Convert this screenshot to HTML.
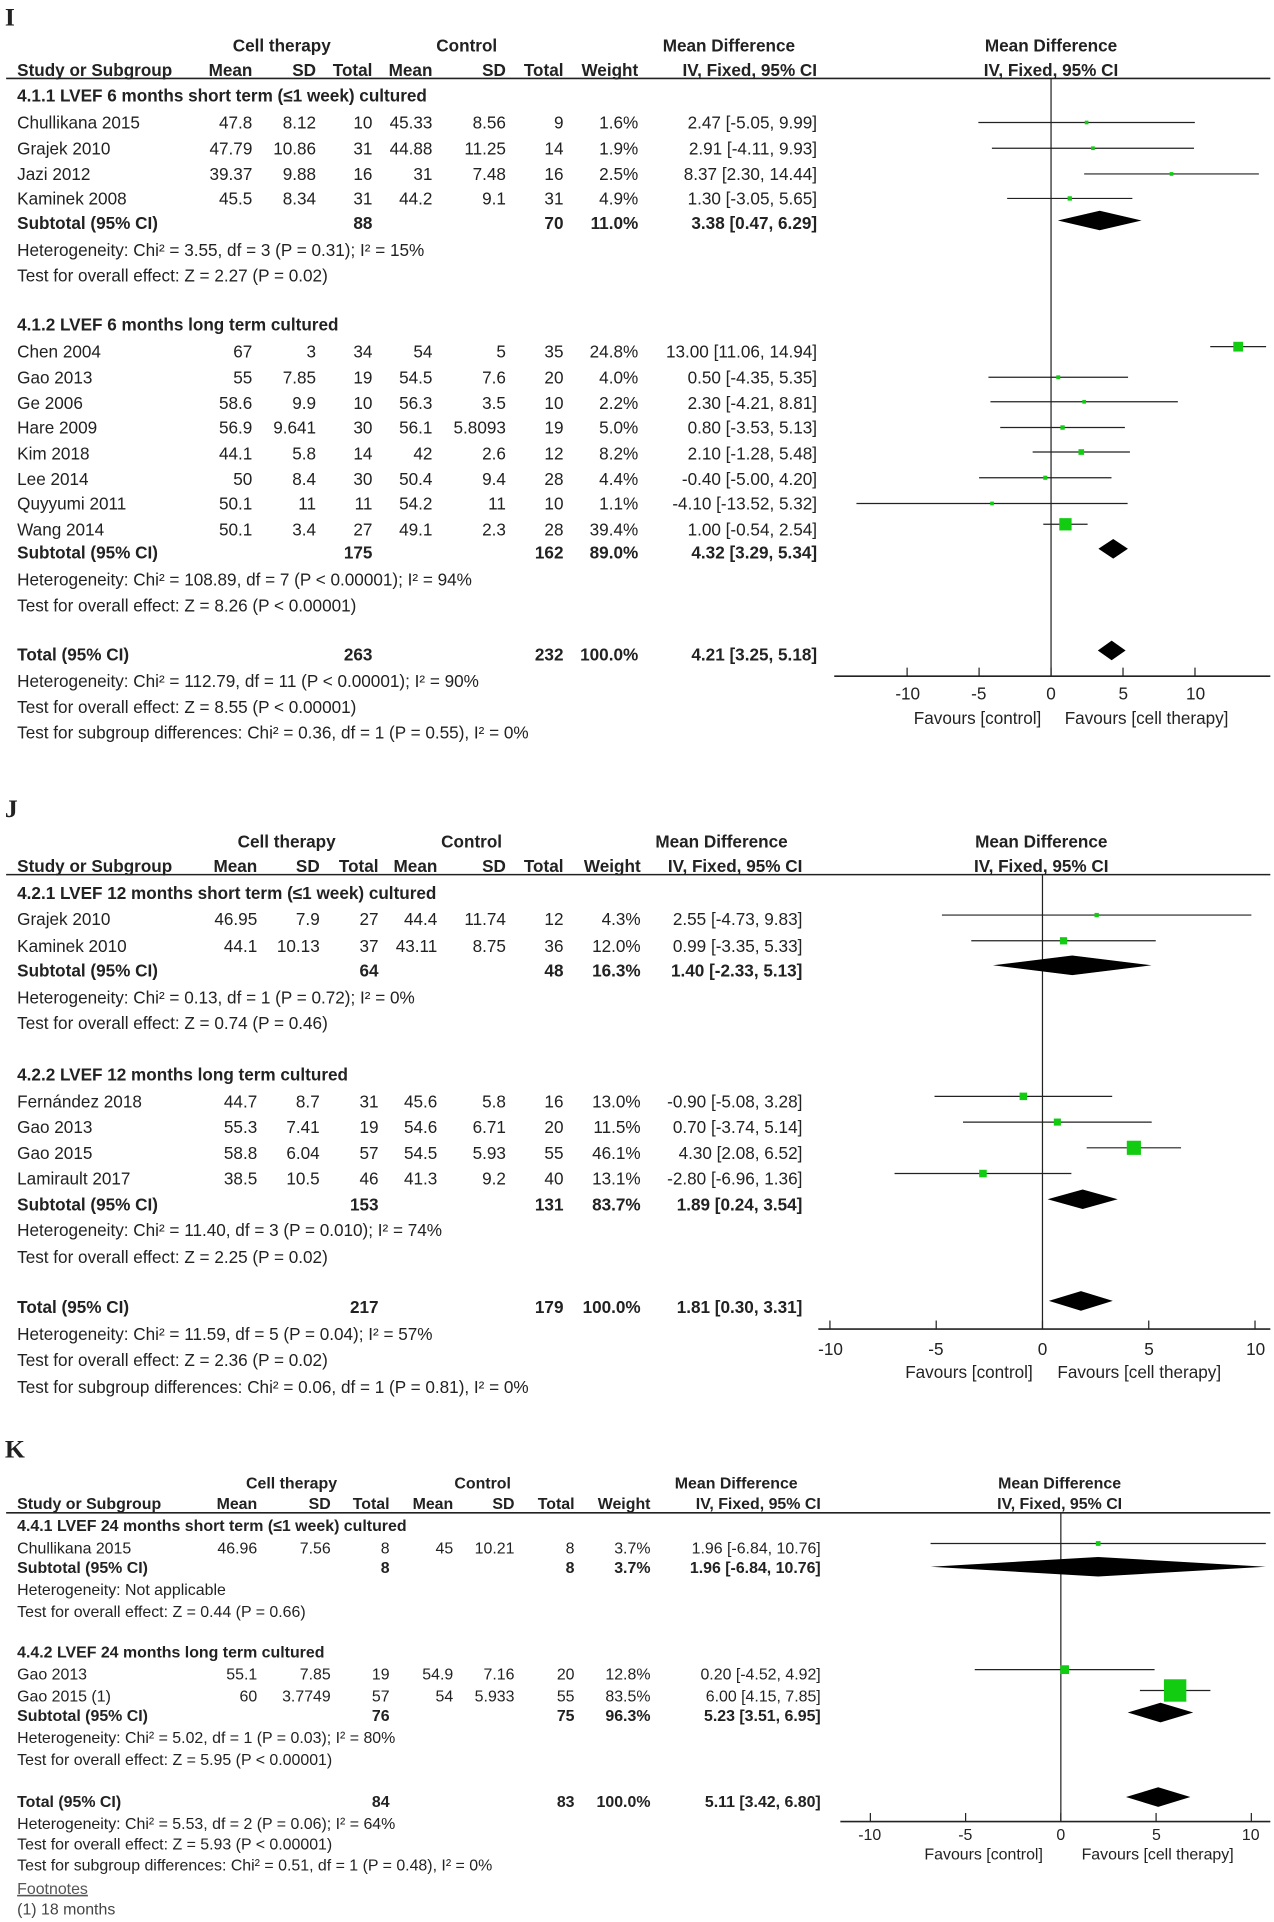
<!DOCTYPE html>
<html><head><meta charset="utf-8"><style>
html,body{margin:0;padding:0;background:#fff;}
svg{display:block}
text{font-family:"Liberation Sans Narrow","Liberation Sans",sans-serif;font-stretch:condensed;fill:#222;font-size:14px}
.b{font-weight:bold}
.e{text-anchor:end}
.m{text-anchor:middle}
.k text{font-size:13px}
</style></head><body>
<svg width="1274" height="1922" viewBox="0 0 1040 1569" preserveAspectRatio="none" xmlns="http://www.w3.org/2000/svg">
<g id="shapes"></g>
<!-- Panel I -->
<text x="4" y="21" style="font-family:'Liberation Serif',serif;font-size:21px;font-weight:bold">I</text>
<g class="b">
<text x="230" y="42" class="m">Cell therapy</text><text x="381" y="42" class="m">Control</text>
<text x="595" y="42" class="m">Mean Difference</text><text x="858" y="42" class="m">Mean Difference</text>
<text x="14" y="62">Study or Subgroup</text><text x="206" y="62" class="e">Mean</text><text x="258" y="62" class="e">SD</text><text x="304" y="62" class="e">Total</text><text x="353" y="62" class="e">Mean</text><text x="413" y="62" class="e">SD</text><text x="460" y="62" class="e">Total</text><text x="521" y="62" class="e">Weight</text><text x="667" y="62" class="e">IV, Fixed, 95% CI</text><text x="858" y="62" class="m">IV, Fixed, 95% CI</text>
<text x="14" y="83">4.1.1 LVEF 6 months short term (≤1 week) cultured</text>
<text x="14" y="187">Subtotal (95% CI)</text><text x="304" y="187" class="e">88</text><text x="460" y="187" class="e">70</text><text x="521" y="187" class="e">11.0%</text><text x="667" y="187" class="e">3.38 [0.47, 6.29]</text>
<text x="14" y="270">4.1.2 LVEF 6 months long term cultured</text>
<text x="14" y="456">Subtotal (95% CI)</text><text x="304" y="456" class="e">175</text><text x="460" y="456" class="e">162</text><text x="521" y="456" class="e">89.0%</text><text x="667" y="456" class="e">4.32 [3.29, 5.34]</text>
<text x="14" y="539">Total (95% CI)</text><text x="304" y="539" class="e">263</text><text x="460" y="539" class="e">232</text><text x="521" y="539" class="e">100.0%</text><text x="667" y="539" class="e">4.21 [3.25, 5.18]</text>
</g>
<g>
<text x="14" y="105">Chullikana 2015</text><text x="206" y="105" class="e">47.8</text><text x="258" y="105" class="e">8.12</text><text x="304" y="105" class="e">10</text><text x="353" y="105" class="e">45.33</text><text x="413" y="105" class="e">8.56</text><text x="460" y="105" class="e">9</text><text x="521" y="105" class="e">1.6%</text><text x="667" y="105" class="e">2.47 [-5.05, 9.99]</text>
<text x="14" y="126">Grajek 2010</text><text x="206" y="126" class="e">47.79</text><text x="258" y="126" class="e">10.86</text><text x="304" y="126" class="e">31</text><text x="353" y="126" class="e">44.88</text><text x="413" y="126" class="e">11.25</text><text x="460" y="126" class="e">14</text><text x="521" y="126" class="e">1.9%</text><text x="667" y="126" class="e">2.91 [-4.11, 9.93]</text>
<text x="14" y="147">Jazi 2012</text><text x="206" y="147" class="e">39.37</text><text x="258" y="147" class="e">9.88</text><text x="304" y="147" class="e">16</text><text x="353" y="147" class="e">31</text><text x="413" y="147" class="e">7.48</text><text x="460" y="147" class="e">16</text><text x="521" y="147" class="e">2.5%</text><text x="667" y="147" class="e">8.37 [2.30, 14.44]</text>
<text x="14" y="167">Kaminek 2008</text><text x="206" y="167" class="e">45.5</text><text x="258" y="167" class="e">8.34</text><text x="304" y="167" class="e">31</text><text x="353" y="167" class="e">44.2</text><text x="413" y="167" class="e">9.1</text><text x="460" y="167" class="e">31</text><text x="521" y="167" class="e">4.9%</text><text x="667" y="167" class="e">1.30 [-3.05, 5.65]</text>
<text x="14" y="209">Heterogeneity: Chi² = 3.55, df = 3 (P = 0.31); I² = 15%</text>
<text x="14" y="230">Test for overall effect: Z = 2.27 (P = 0.02)</text>
<text x="14" y="292">Chen 2004</text><text x="206" y="292" class="e">67</text><text x="258" y="292" class="e">3</text><text x="304" y="292" class="e">34</text><text x="353" y="292" class="e">54</text><text x="413" y="292" class="e">5</text><text x="460" y="292" class="e">35</text><text x="521" y="292" class="e">24.8%</text><text x="667" y="292" class="e">13.00 [11.06, 14.94]</text>
<text x="14" y="313">Gao 2013</text><text x="206" y="313" class="e">55</text><text x="258" y="313" class="e">7.85</text><text x="304" y="313" class="e">19</text><text x="353" y="313" class="e">54.5</text><text x="413" y="313" class="e">7.6</text><text x="460" y="313" class="e">20</text><text x="521" y="313" class="e">4.0%</text><text x="667" y="313" class="e">0.50 [-4.35, 5.35]</text>
<text x="14" y="334">Ge 2006</text><text x="206" y="334" class="e">58.6</text><text x="258" y="334" class="e">9.9</text><text x="304" y="334" class="e">10</text><text x="353" y="334" class="e">56.3</text><text x="413" y="334" class="e">3.5</text><text x="460" y="334" class="e">10</text><text x="521" y="334" class="e">2.2%</text><text x="667" y="334" class="e">2.30 [-4.21, 8.81]</text>
<text x="14" y="354">Hare 2009</text><text x="206" y="354" class="e">56.9</text><text x="258" y="354" class="e">9.641</text><text x="304" y="354" class="e">30</text><text x="353" y="354" class="e">56.1</text><text x="413" y="354" class="e">5.8093</text><text x="460" y="354" class="e">19</text><text x="521" y="354" class="e">5.0%</text><text x="667" y="354" class="e">0.80 [-3.53, 5.13]</text>
<text x="14" y="375">Kim 2018</text><text x="206" y="375" class="e">44.1</text><text x="258" y="375" class="e">5.8</text><text x="304" y="375" class="e">14</text><text x="353" y="375" class="e">42</text><text x="413" y="375" class="e">2.6</text><text x="460" y="375" class="e">12</text><text x="521" y="375" class="e">8.2%</text><text x="667" y="375" class="e">2.10 [-1.28, 5.48]</text>
<text x="14" y="396">Lee 2014</text><text x="206" y="396" class="e">50</text><text x="258" y="396" class="e">8.4</text><text x="304" y="396" class="e">30</text><text x="353" y="396" class="e">50.4</text><text x="413" y="396" class="e">9.4</text><text x="460" y="396" class="e">28</text><text x="521" y="396" class="e">4.4%</text><text x="667" y="396" class="e">-0.40 [-5.00, 4.20]</text>
<text x="14" y="416">Quyyumi 2011</text><text x="206" y="416" class="e">50.1</text><text x="258" y="416" class="e">11</text><text x="304" y="416" class="e">11</text><text x="353" y="416" class="e">54.2</text><text x="413" y="416" class="e">11</text><text x="460" y="416" class="e">10</text><text x="521" y="416" class="e">1.1%</text><text x="667" y="416" class="e">-4.10 [-13.52, 5.32]</text>
<text x="14" y="437">Wang 2014</text><text x="206" y="437" class="e">50.1</text><text x="258" y="437" class="e">3.4</text><text x="304" y="437" class="e">27</text><text x="353" y="437" class="e">49.1</text><text x="413" y="437" class="e">2.3</text><text x="460" y="437" class="e">28</text><text x="521" y="437" class="e">39.4%</text><text x="667" y="437" class="e">1.00 [-0.54, 2.54]</text>
<text x="14" y="478">Heterogeneity: Chi² = 108.89, df = 7 (P &lt; 0.00001); I² = 94%</text>
<text x="14" y="499">Test for overall effect: Z = 8.26 (P &lt; 0.00001)</text>
<text x="14" y="561">Heterogeneity: Chi² = 112.79, df = 11 (P &lt; 0.00001); I² = 90%</text>
<text x="14" y="582">Test for overall effect: Z = 8.55 (P &lt; 0.00001)</text>
<text x="14" y="603">Test for subgroup differences: Chi² = 0.36, df = 1 (P = 0.55), I² = 0%</text>
<text x="741" y="571" class="m">-10</text><text x="799" y="571" class="m">-5</text><text x="858" y="571" class="m">0</text><text x="917" y="571" class="m">5</text><text x="976" y="571" class="m">10</text>
<text x="798" y="591" class="m">Favours [control]</text><text x="936" y="591" class="m">Favours [cell therapy]</text>
</g>

<!-- Panel J -->
<text x="4" y="667" style="font-family:'Liberation Serif',serif;font-size:21px;font-weight:bold">J</text>
<g class="b">
<text x="234" y="692" class="m">Cell therapy</text><text x="385" y="692" class="m">Control</text>
<text x="589" y="692" class="m">Mean Difference</text><text x="850" y="692" class="m">Mean Difference</text>
<text x="14" y="712">Study or Subgroup</text><text x="210" y="712" class="e">Mean</text><text x="261" y="712" class="e">SD</text><text x="309" y="712" class="e">Total</text><text x="357" y="712" class="e">Mean</text><text x="413" y="712" class="e">SD</text><text x="460" y="712" class="e">Total</text><text x="523" y="712" class="e">Weight</text><text x="655" y="712" class="e">IV, Fixed, 95% CI</text><text x="850" y="712" class="m">IV, Fixed, 95% CI</text>
<text x="14" y="734">4.2.1 LVEF 12 months short term (≤1 week) cultured</text>
<text x="14" y="797">Subtotal (95% CI)</text><text x="309" y="797" class="e">64</text><text x="460" y="797" class="e">48</text><text x="523" y="797" class="e">16.3%</text><text x="655" y="797" class="e">1.40 [-2.33, 5.13]</text>
<text x="14" y="882">4.2.2 LVEF 12 months long term cultured</text>
<text x="14" y="988">Subtotal (95% CI)</text><text x="309" y="988" class="e">153</text><text x="460" y="988" class="e">131</text><text x="523" y="988" class="e">83.7%</text><text x="655" y="988" class="e">1.89 [0.24, 3.54]</text>
<text x="14" y="1072">Total (95% CI)</text><text x="309" y="1072" class="e">217</text><text x="460" y="1072" class="e">179</text><text x="523" y="1072" class="e">100.0%</text><text x="655" y="1072" class="e">1.81 [0.30, 3.31]</text>
</g>
<g>
<text x="14" y="755">Grajek 2010</text><text x="210" y="755" class="e">46.95</text><text x="261" y="755" class="e">7.9</text><text x="309" y="755" class="e">27</text><text x="357" y="755" class="e">44.4</text><text x="413" y="755" class="e">11.74</text><text x="460" y="755" class="e">12</text><text x="523" y="755" class="e">4.3%</text><text x="655" y="755" class="e">2.55 [-4.73, 9.83]</text>
<text x="14" y="777">Kaminek 2010</text><text x="210" y="777" class="e">44.1</text><text x="261" y="777" class="e">10.13</text><text x="309" y="777" class="e">37</text><text x="357" y="777" class="e">43.11</text><text x="413" y="777" class="e">8.75</text><text x="460" y="777" class="e">36</text><text x="523" y="777" class="e">12.0%</text><text x="655" y="777" class="e">0.99 [-3.35, 5.33]</text>
<text x="14" y="819">Heterogeneity: Chi² = 0.13, df = 1 (P = 0.72); I² = 0%</text>
<text x="14" y="840">Test for overall effect: Z = 0.74 (P = 0.46)</text>
<text x="14" y="904">Fernández 2018</text><text x="210" y="904" class="e">44.7</text><text x="261" y="904" class="e">8.7</text><text x="309" y="904" class="e">31</text><text x="357" y="904" class="e">45.6</text><text x="413" y="904" class="e">5.8</text><text x="460" y="904" class="e">16</text><text x="523" y="904" class="e">13.0%</text><text x="655" y="904" class="e">-0.90 [-5.08, 3.28]</text>
<text x="14" y="925">Gao 2013</text><text x="210" y="925" class="e">55.3</text><text x="261" y="925" class="e">7.41</text><text x="309" y="925" class="e">19</text><text x="357" y="925" class="e">54.6</text><text x="413" y="925" class="e">6.71</text><text x="460" y="925" class="e">20</text><text x="523" y="925" class="e">11.5%</text><text x="655" y="925" class="e">0.70 [-3.74, 5.14]</text>
<text x="14" y="946">Gao 2015</text><text x="210" y="946" class="e">58.8</text><text x="261" y="946" class="e">6.04</text><text x="309" y="946" class="e">57</text><text x="357" y="946" class="e">54.5</text><text x="413" y="946" class="e">5.93</text><text x="460" y="946" class="e">55</text><text x="523" y="946" class="e">46.1%</text><text x="655" y="946" class="e">4.30 [2.08, 6.52]</text>
<text x="14" y="967">Lamirault 2017</text><text x="210" y="967" class="e">38.5</text><text x="261" y="967" class="e">10.5</text><text x="309" y="967" class="e">46</text><text x="357" y="967" class="e">41.3</text><text x="413" y="967" class="e">9.2</text><text x="460" y="967" class="e">40</text><text x="523" y="967" class="e">13.1%</text><text x="655" y="967" class="e">-2.80 [-6.96, 1.36]</text>
<text x="14" y="1009">Heterogeneity: Chi² = 11.40, df = 3 (P = 0.010); I² = 74%</text>
<text x="14" y="1031">Test for overall effect: Z = 2.25 (P = 0.02)</text>
<text x="14" y="1094">Heterogeneity: Chi² = 11.59, df = 5 (P = 0.04); I² = 57%</text>
<text x="14" y="1115">Test for overall effect: Z = 2.36 (P = 0.02)</text>
<text x="14" y="1137">Test for subgroup differences: Chi² = 0.06, df = 1 (P = 0.81), I² = 0%</text>
<text x="678" y="1106" class="m">-10</text><text x="764" y="1106" class="m">-5</text><text x="851" y="1106" class="m">0</text><text x="938" y="1106" class="m">5</text><text x="1025" y="1106" class="m">10</text>
<text x="791" y="1125" class="m">Favours [control]</text><text x="930" y="1125" class="m">Favours [cell therapy]</text>
</g>

<!-- Panel K -->
<text x="4" y="1190" style="font-family:'Liberation Serif',serif;font-size:21px;font-weight:bold">K</text>
<g class="k">
<g class="b">
<text x="238" y="1215" class="m">Cell therapy</text><text x="394" y="1215" class="m">Control</text>
<text x="601" y="1215" class="m">Mean Difference</text><text x="865" y="1215" class="m">Mean Difference</text>
<text x="14" y="1232">Study or Subgroup</text><text x="210" y="1232" class="e">Mean</text><text x="270" y="1232" class="e">SD</text><text x="318" y="1232" class="e">Total</text><text x="370" y="1232" class="e">Mean</text><text x="420" y="1232" class="e">SD</text><text x="469" y="1232" class="e">Total</text><text x="531" y="1232" class="e">Weight</text><text x="670" y="1232" class="e">IV, Fixed, 95% CI</text><text x="865" y="1232" class="m">IV, Fixed, 95% CI</text>
<text x="14" y="1250">4.4.1 LVEF 24 months short term (≤1 week) cultured</text>
<text x="14" y="1284">Subtotal (95% CI)</text><text x="318" y="1284" class="e">8</text><text x="469" y="1284" class="e">8</text><text x="531" y="1284" class="e">3.7%</text><text x="670" y="1284" class="e">1.96 [-6.84, 10.76]</text>
<text x="14" y="1353">4.4.2 LVEF 24 months long term cultured</text>
<text x="14" y="1405">Subtotal (95% CI)</text><text x="318" y="1405" class="e">76</text><text x="469" y="1405" class="e">75</text><text x="531" y="1405" class="e">96.3%</text><text x="670" y="1405" class="e">5.23 [3.51, 6.95]</text>
<text x="14" y="1475">Total (95% CI)</text><text x="318" y="1475" class="e">84</text><text x="469" y="1475" class="e">83</text><text x="531" y="1475" class="e">100.0%</text><text x="670" y="1475" class="e">5.11 [3.42, 6.80]</text>
</g>
<text x="14" y="1268">Chullikana 2015</text><text x="210" y="1268" class="e">46.96</text><text x="270" y="1268" class="e">7.56</text><text x="318" y="1268" class="e">8</text><text x="370" y="1268" class="e">45</text><text x="420" y="1268" class="e">10.21</text><text x="469" y="1268" class="e">8</text><text x="531" y="1268" class="e">3.7%</text><text x="670" y="1268" class="e">1.96 [-6.84, 10.76]</text>
<text x="14" y="1302">Heterogeneity: Not applicable</text>
<text x="14" y="1320">Test for overall effect: Z = 0.44 (P = 0.66)</text>
<text x="14" y="1371">Gao 2013</text><text x="210" y="1371" class="e">55.1</text><text x="270" y="1371" class="e">7.85</text><text x="318" y="1371" class="e">19</text><text x="370" y="1371" class="e">54.9</text><text x="420" y="1371" class="e">7.16</text><text x="469" y="1371" class="e">20</text><text x="531" y="1371" class="e">12.8%</text><text x="670" y="1371" class="e">0.20 [-4.52, 4.92]</text>
<text x="14" y="1389">Gao 2015 (1)</text><text x="210" y="1389" class="e">60</text><text x="270" y="1389" class="e">3.7749</text><text x="318" y="1389" class="e">57</text><text x="370" y="1389" class="e">54</text><text x="420" y="1389" class="e">5.933</text><text x="469" y="1389" class="e">55</text><text x="531" y="1389" class="e">83.5%</text><text x="670" y="1389" class="e">6.00 [4.15, 7.85]</text>
<text x="14" y="1423">Heterogeneity: Chi² = 5.02, df = 1 (P = 0.03); I² = 80%</text>
<text x="14" y="1441">Test for overall effect: Z = 5.95 (P &lt; 0.00001)</text>
<text x="14" y="1493">Heterogeneity: Chi² = 5.53, df = 2 (P = 0.06); I² = 64%</text>
<text x="14" y="1510">Test for overall effect: Z = 5.93 (P &lt; 0.00001)</text>
<text x="14" y="1527">Test for subgroup differences: Chi² = 0.51, df = 1 (P = 0.48), I² = 0%</text>
<text x="14" y="1546" style="fill:#555;text-decoration:underline">Footnotes</text>
<text x="14" y="1563" style="fill:#444">(1) 18 months</text>
<text x="710" y="1502" class="m">-10</text><text x="788" y="1502" class="m">-5</text><text x="866" y="1502" class="m">0</text><text x="944" y="1502" class="m">5</text><text x="1021" y="1502" class="m">10</text>
<text x="803" y="1518" class="m">Favours [control]</text><text x="945" y="1518" class="m">Favours [cell therapy]</text>
</g>
</svg>
<script>
(function(){
var g=document.getElementById('shapes'),NS='http://www.w3.org/2000/svg';
function el(t,a){var e=document.createElementNS(NS,t);for(var k in a)e.setAttribute(k,a[k]);g.appendChild(e);}
var P=[
 {x0:858,s:11.75,top:64,ax:552,axL:681,sq:1.6,
  r:[[100,2.47,-5.05,9.99,1.6],[121,2.91,-4.11,9.93,1.9],[142,8.37,2.30,14.44,2.5],[162,1.30,-3.05,5.65,4.9],
     [180,3.38,0.47,6.29,0,1],
     [283,13,11.06,14.94,24.8],[308,.5,-4.35,5.35,4],[328,2.3,-4.21,8.81,2.2],[349,.8,-3.53,5.13,5],[369,2.1,-1.28,5.48,8.2],[390,-.4,-5,4.2,4.4],[411,-4.1,-13.52,5.32,1.1],[428,1,-.54,2.54,39.4],
     [448,4.32,3.29,5.34,0,1],[531,4.21,3.25,5.18,0,1]]},
 {x0:851,s:17.35,top:714,ax:1085,axL:668,sq:1.7,
  r:[[747,2.55,-4.73,9.83,4.3],[768,.99,-3.35,5.33,12],[788,1.4,-2.33,5.13,0,1],
     [895,-.9,-5.08,3.28,13],[916,.7,-3.74,5.14,11.5],[937,4.3,2.08,6.52,46.1],[958,-2.8,-6.96,1.36,13.1],
     [979,1.89,.24,3.54,0,1],[1062,1.81,.30,3.31,0,1]]},
 {x0:866,s:15.55,top:1235,ax:1487,axL:686,sq:2,
  r:[[1260,1.96,-6.84,10.76,3.7],[1279,1.96,-6.84,10.76,0,1],[1363,.2,-4.52,4.92,12.8],[1380,6,4.15,7.85,83.5],
     [1398,5.23,3.51,6.95,0,1],[1467,5.11,3.42,6.8,0,1]]}
];
P.forEach(function(p){
 el('line',{x1:5,y1:p.top,x2:1037,y2:p.top,stroke:'#222','stroke-width':1.3});
 el('line',{x1:p.x0,y1:p.top,x2:p.x0,y2:p.ax,stroke:'#222','stroke-width':1});
 el('line',{x1:p.axL,y1:p.ax,x2:1037,y2:p.ax,stroke:'#222','stroke-width':1.3});
 [-10,-5,0,5,10].forEach(function(v){var x=p.x0+v*p.s;el('line',{x1:x,y1:p.ax-7,x2:x,y2:p.ax,stroke:'#222','stroke-width':1});});
 p.r.forEach(function(r){
  var y=r[0],m=p.x0+r[1]*p.s,lo=p.x0+r[2]*p.s,hi=Math.min(1035,p.x0+r[3]*p.s);
  if(r[5]){el('polygon',{points:lo+','+y+' '+m+','+(y-8)+' '+hi+','+y+' '+m+','+(y+8),fill:'#000'});}
  else{el('line',{x1:lo,y1:y,x2:hi,y2:y,stroke:'#222','stroke-width':1});
   var w=Math.max(3,Math.sqrt(r[4])*p.sq);el('rect',{x:m-w/2,y:y-w/2,width:w,height:w,fill:'#11cc11'});}
 });
});
})();
</script>
</body></html>
